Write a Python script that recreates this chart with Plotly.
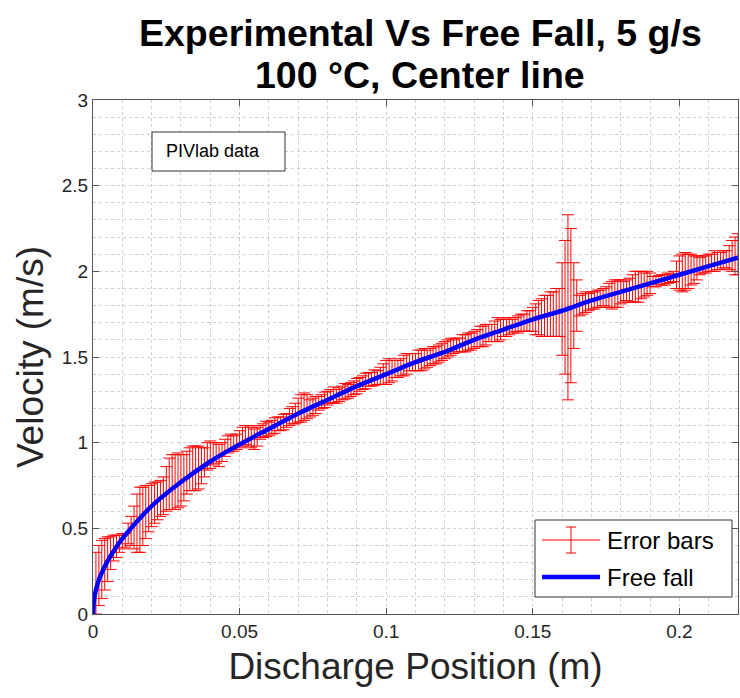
import plotly.graph_objects as go

# ---------------- data ----------------
# sampling positions of PIV data along the centre line (m)
x_pos = [round(0.001 * i, 3) for i in range(1, 221)]

vel_mean = [
    0.18, 0.225, 0.26, 0.29, 0.32, 0.355, 0.385, 0.395, 0.41, 0.425, 0.43,
    0.47, 0.485, 0.505, 0.53, 0.55, 0.57, 0.595, 0.615, 0.635, 0.65, 0.66, 0.675, 0.69,
    0.73, 0.76, 0.77, 0.77, 0.78, 0.78, 0.795, 0.825, 0.845, 0.85, 0.85, 0.855, 0.865, 0.885,
    0.92, 0.93, 0.935, 0.94, 0.925, 0.945, 0.97, 0.99, 1.0, 0.995, 1.005, 1.02, 1.035, 1.045, 1.04, 1.03, 1.02, 1.035,
    1.06, 1.07, 1.08, 1.08, 1.09, 1.10, 1.11, 1.11, 1.12, 1.13,
    1.15, 1.16, 1.17, 1.19, 1.20, 1.21, 1.21, 1.20, 1.21, 1.22,
    1.23, 1.24, 1.25, 1.26, 1.27, 1.28, 1.27, 1.28, 1.29, 1.30, 1.30, 1.31,
    1.32, 1.33, 1.34, 1.35, 1.36, 1.37, 1.37, 1.38, 1.38,
    1.39, 1.40, 1.41, 1.42, 1.42, 1.43, 1.43,
    1.44, 1.45, 1.46, 1.47, 1.47, 1.47, 1.48, 1.48,
    1.49, 1.49, 1.50, 1.51, 1.51, 1.52,
    1.53, 1.54, 1.55, 1.56, 1.56, 1.57, 1.57, 1.58, 1.58, 1.59, 1.59,
    1.60, 1.61, 1.62, 1.62, 1.63, 1.64, 1.64, 1.65, 1.66, 1.66, 1.67,
    1.67, 1.68, 1.68, 1.69, 1.69, 1.70, 1.70, 1.71, 1.71, 1.72,
    1.72, 1.73, 1.73, 1.74, 1.74, 1.75, 1.75, 1.76, 1.76,
    1.78, 1.79, 1.79, 1.80, 1.80, 1.80,
    1.80, 1.81, 1.82, 1.82, 1.83, 1.83, 1.84, 1.84, 1.85,
    1.85, 1.86, 1.86, 1.87, 1.87, 1.88, 1.88, 1.89,
    1.89, 1.90, 1.91, 1.91, 1.92, 1.92, 1.93, 1.93,
    1.94, 1.94, 1.95, 1.95, 1.95, 1.96, 1.96, 1.97,
    1.98, 1.99, 1.99, 2.00, 2.00, 2.01, 2.01, 2.02,
    2.03, 2.04, 2.04, 2.05, 2.05, 2.06, 2.06, 2.06, 2.07, 2.07,
    2.08, 2.09, 2.09, 2.10,
]

vel_err = [
    0.18, 0.175, 0.17, 0.15, 0.13, 0.095, 0.075, 0.065, 0.05, 0.045, 0.04,
    0.06, 0.085, 0.125, 0.17, 0.19, 0.17, 0.155, 0.135, 0.125, 0.12, 0.11, 0.105, 0.11,
    0.13, 0.15, 0.16, 0.16, 0.16, 0.15, 0.135, 0.125, 0.125, 0.13, 0.13, 0.125, 0.105, 0.085,
    0.08, 0.08, 0.065, 0.06, 0.065, 0.055, 0.05, 0.05, 0.05, 0.045, 0.045, 0.05, 0.055, 0.055, 0.06, 0.06, 0.06, 0.055,
    0.04, 0.04, 0.045, 0.04, 0.04, 0.045, 0.04, 0.04, 0.045, 0.04,
    0.05, 0.05, 0.06, 0.07, 0.08, 0.08, 0.07, 0.05, 0.05, 0.05,
    0.04, 0.04, 0.045, 0.04, 0.04, 0.045, 0.04, 0.04, 0.04, 0.045, 0.04, 0.04,
    0.04, 0.045, 0.04, 0.04, 0.045, 0.04, 0.04, 0.045, 0.04,
    0.05, 0.06, 0.07, 0.07, 0.06, 0.05, 0.05,
    0.05, 0.06, 0.06, 0.05, 0.05, 0.05, 0.06, 0.06,
    0.06, 0.05, 0.05, 0.05, 0.05, 0.05,
    0.05, 0.05, 0.05, 0.05, 0.04, 0.04, 0.04, 0.05, 0.05, 0.05, 0.05,
    0.05, 0.05, 0.06, 0.06, 0.06, 0.05, 0.05, 0.06, 0.07, 0.06, 0.05,
    0.05, 0.05, 0.04, 0.04, 0.05, 0.05, 0.05, 0.06, 0.06, 0.07,
    0.09, 0.10, 0.11, 0.12, 0.12, 0.13, 0.13, 0.14, 0.14,
    0.27, 0.39, 0.54, 0.45, 0.25, 0.15,
    0.06, 0.06, 0.06, 0.05, 0.05, 0.05, 0.05, 0.05, 0.05,
    0.06, 0.07, 0.08, 0.08, 0.08, 0.07, 0.06, 0.06,
    0.07, 0.08, 0.09, 0.09, 0.08, 0.07, 0.07, 0.06,
    0.03, 0.03, 0.025, 0.03, 0.03, 0.03, 0.025, 0.03,
    0.08, 0.10, 0.11, 0.11, 0.10, 0.09, 0.08, 0.07,
    0.05, 0.05, 0.05, 0.05, 0.05, 0.06, 0.05, 0.05, 0.05, 0.05,
    0.07, 0.09, 0.11, 0.12,
]

# free-fall curve, values
ff_x = [0, 0.0002, 0.0005, 0.001, 0.002, 0.003, 0.005, 0.0075, 0.01, 0.015, 0.02,
        0.03, 0.04, 0.05, 0.06, 0.07, 0.08, 0.09, 0.10, 0.11, 0.12, 0.13, 0.14,
        0.15, 0.16, 0.17, 0.18, 0.19, 0.20, 0.21, 0.22]
ff_v = [0, 0.06, 0.10, 0.14, 0.20, 0.24, 0.31, 0.38, 0.44, 0.54, 0.63,
        0.77, 0.89, 0.99, 1.08, 1.17, 1.25, 1.33, 1.40, 1.47, 1.53, 1.60, 1.66,
        1.72, 1.77, 1.83, 1.88, 1.93, 1.98, 2.03, 2.08]

x_ticks = [0, 0.05, 0.1, 0.15, 0.2]
x_tick_text = ["0", "0.05", "0.1", "0.15", "0.2"]
y_ticks = [0, 0.5, 1, 1.5, 2, 2.5, 3]
y_tick_text = ["0", "0.5", "1", "1.5", "2", "2.5", "3"]

title_lines = ["Experimental Vs Free Fall, 5 g/s", "100 \u00b0C, Center line"]
legend_labels = ["Error bars", "Free fall"]

# ---------------- figure ----------------
FONT = "Liberation Sans, Arial, Helvetica, sans-serif"
AX = "#262626"
GRID = "#cfcfcf"

fig = go.Figure()
fig.add_trace(go.Scatter(
    x=x_pos, y=vel_mean, mode="markers",
    marker=dict(size=0.1, color="red", opacity=0),
    error_y=dict(type="data", array=vel_err, visible=True,
                 color="#ff0000", thickness=1, width=6),
    showlegend=False, hoverinfo="skip"))
fig.add_trace(go.Scatter(
    x=ff_x, y=ff_v, mode="lines",
    line=dict(color="#0000ff", width=4.5, shape="spline", smoothing=0.6),
    showlegend=False))

axis_common = dict(
    showline=True, linecolor="#555555", linewidth=1, mirror="ticks",
    ticks="inside", ticklen=6, tickcolor="#555555",
    showgrid=True, gridcolor=GRID, griddash="dot", gridwidth=1,
    zeroline=False, tickfont=dict(family=FONT, size=19, color=AX),
)
fig.update_xaxes(range=[0, 0.22], tickvals=x_ticks, ticktext=x_tick_text,
                 minor=dict(dtick=0.01, showgrid=True, gridcolor=GRID, griddash="dot", ticks=""),
                 title=dict(text="Discharge Position (m)", font=dict(family=FONT, size=37, color=AX), standoff=12),
                 **axis_common)
fig.update_yaxes(range=[0, 3], tickvals=y_ticks, ticktext=y_tick_text,
                 minor=dict(dtick=0.1, showgrid=True, gridcolor=GRID, griddash="dot", ticks=""),
                 title=dict(text="Velocity (m/s)", font=dict(family=FONT, size=37, color=AX), standoff=6),
                 **axis_common)

def px(xp):
    return (xp - 93) / 645.0

def py(yp):
    return (614 - yp) / 514.0

annotations = [
    dict(text="<b>%s</b>" % title_lines[0], x=px(420), y=py(33), xref="paper", yref="paper",
         xanchor="center", yanchor="middle", showarrow=False,
         font=dict(family=FONT, size=37.5, color="black")),
    dict(text="<b>%s</b>" % title_lines[1], x=px(420), y=py(75), xref="paper", yref="paper",
         xanchor="center", yanchor="middle", showarrow=False,
         font=dict(family=FONT, size=37.5, color="black")),
    dict(text="PIVlab data", x=px(213), y=py(151), xref="paper", yref="paper",
         xanchor="center", yanchor="middle", showarrow=False,
         font=dict(family=FONT, size=18, color="black")),
    dict(text=legend_labels[0], x=px(605), y=py(540), xref="paper", yref="paper",
         xanchor="left", yanchor="middle", showarrow=False,
         font=dict(family=FONT, size=24, color="black")),
    dict(text=legend_labels[1], x=px(605), y=py(577), xref="paper", yref="paper",
         xanchor="left", yanchor="middle", showarrow=False,
         font=dict(family=FONT, size=24, color="black")),
]

shapes = [
    # PIVlab box
    dict(type="rect", xref="paper", yref="paper", x0=px(152), x1=px(285), y0=py(171), y1=py(132),
         line=dict(color="#333333", width=1), fillcolor="white", layer="above"),
    # legend box
    dict(type="rect", xref="paper", yref="paper", x0=px(535), x1=px(732), y0=py(597), y1=py(520),
         line=dict(color="#333333", width=1), fillcolor="white", layer="above"),
    # legend: error bar icon
    dict(type="line", xref="paper", yref="paper", x0=px(542), x1=px(600), y0=py(540), y1=py(540),
         line=dict(color="red", width=1), layer="above"),
    dict(type="line", xref="paper", yref="paper", x0=px(571), x1=px(571), y0=py(527), y1=py(553),
         line=dict(color="red", width=1), layer="above"),
    dict(type="line", xref="paper", yref="paper", x0=px(566), x1=px(576), y0=py(527), y1=py(527),
         line=dict(color="red", width=1), layer="above"),
    dict(type="line", xref="paper", yref="paper", x0=px(566), x1=px(576), y0=py(553), y1=py(553),
         line=dict(color="red", width=1), layer="above"),
    # legend: free-fall line
    dict(type="line", xref="paper", yref="paper", x0=px(542), x1=px(600), y0=py(577), y1=py(577),
         line=dict(color="#0000ff", width=4.5), layer="above"),
]

fig.update_layout(
    width=740, height=698,
    margin=dict(l=93, r=2, t=100, b=84),
    paper_bgcolor="white", plot_bgcolor="white",
    font=dict(family=FONT, color=AX),
    annotations=annotations, shapes=shapes,
    showlegend=False,
)

fig.write_html("out.html")
